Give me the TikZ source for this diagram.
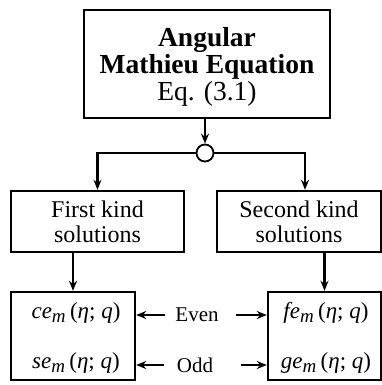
\documentclass[tikz,border=0pt]{standalone}
\usepackage{fontspec}
\setmainfont{Liberation Serif}
\usetikzlibrary{arrows.meta,positioning,calc}
\tikzset{
  blk/.style={draw,rectangle,line width=2.4pt,align=center,inner sep=0pt},
  topblk/.style={blk,minimum width=246pt,minimum height=108pt,font=\fontsize{27.5}{28}\selectfont},
  kindblk/.style={blk,minimum height=61pt,font=\fontsize{24}{25}\selectfont},
  solblk/.style={blk,minimum height=88pt},
  fnlbl/.style={font=\fontsize{23}{24}\selectfont\itshape,inner sep=0pt},
  parlbl/.style={font=\fontsize{21}{24}\selectfont,inner sep=0pt},
  junc/.style={circle,draw,line width=1.8pt,fill=white,minimum size=17pt,inner sep=0pt},
  arr/.style={-{Stealth[length=10pt,width=8pt]},line width=2.2pt},
  ln/.style={line width=2.2pt}
}
\newcommand{\subm}{\textsubscript{\fontsize{19}{20}\selectfont m}}

\begin{document}
\begin{tikzpicture}[x=1pt,y=-1pt]
  \useasboundingbox (0,0) rectangle (382,385);
  % Equation block
  \node[topblk,text depth=-4pt] (eqn) at (207,64) {\textbf{Angular}\\[-1pt]\textbf{Mathieu Equation}\\[-1pt]Eq. (3.1)};
  \node[junc] (jn) at (205,153) {};

  % Kinds of solutions
  \node[kindblk,minimum width=173pt] (first) at (97.5,221.5) {First kind\\solutions};
  \node[kindblk,minimum width=164pt] (second) at (299,221.5) {Second kind\\solutions};

  % Branch lines
  \draw[arr] (eqn.south -| jn.north) -- (jn.north);
  \draw[arr] (jn.west) -| (first.north);
  \draw[arr] (jn.east) -| ([xshift=6pt]second.north);

  % Solution functions
  \node[solblk,minimum width=124pt] (fbox) at (73,336) {};
  \node[solblk,minimum width=113pt] (sbox) at (324.5,336) {};
  \node[fnlbl] (ce) at (76,313) {ce\subm\,\upshape(\itshape η\upshape; \itshape q\upshape)};
  \node[fnlbl] (se) at (76,363) {se\subm\,\upshape(\itshape η\upshape; \itshape q\upshape)};
  \node[fnlbl] (fe) at (326,313) {fe\subm\,\upshape(\itshape η\upshape; \itshape q\upshape)};
  \node[fnlbl] (ge) at (326,363) {ge\subm\,\upshape(\itshape η\upshape; \itshape q\upshape)};
  \draw[arr] (first.south -| fbox.north) -- (fbox.north);
  \draw[arr] (second.south -| sbox.north) -- (sbox.north);

  % Parity labels
  \node[parlbl] (even) at (197,315) {Even};
  \node[parlbl] (odd) at (195,365) {Odd};
  \draw[arr] ([xshift=-10pt]even.west) -- (even.west -| fbox.east);
  \draw[arr] ([xshift=17pt]even.east) -- (even.east -| sbox.west);
  \draw[arr] ([xshift=-13pt]odd.west) -- (odd.west -| fbox.east);
  \draw[arr] ([xshift=28pt]odd.east) -- (odd.east -| sbox.west);
\end{tikzpicture}
\end{document}
